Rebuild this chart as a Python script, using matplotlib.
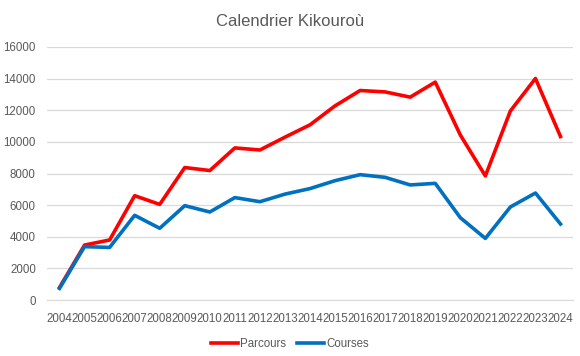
import matplotlib
matplotlib.use("Agg")
import matplotlib.pyplot as plt

years = list(range(2004, 2025))
parcours = [800, 3480, 3800, 6600, 6050, 8380, 8190, 9620, 9490, 10300, 11080,
            12280, 13250, 13160, 12830, 13780, 10440, 7850, 11960, 14010, 10340]
courses = [740, 3380, 3330, 5360, 4540, 5970, 5570, 6480, 6220, 6700, 7050,
           7550, 7930, 7760, 7280, 7380, 5210, 3900, 5890, 6770, 4810]
yticks = list(range(0, 16001, 2000))

plt.rcParams['font.family'] = ['Liberation Sans', 'DejaVu Sans']
grey = '#595959'

fig = plt.figure(figsize=(5.8, 3.56), dpi=100)
ax = fig.add_axes([0.081, 0.157, 0.907, 0.711])

ax.plot(years, parcours, color='#ff0000', lw=2.6, label='Parcours', solid_joinstyle='round')
ax.plot(years, courses, color='#0070c0', lw=2.6, label='Courses', solid_joinstyle='round')

ax.set_xlim(2003.5, 2024.5)
ax.set_ylim(0, 16000)
ax.set_yticks(yticks)
ax.set_xticks(years)
ax.set_xticklabels([str(y) for y in years])
ax.tick_params(axis='both', length=0, labelsize=8.3, colors=grey)
ax.tick_params(axis='x', pad=9)
ax.tick_params(axis='y', pad=8)
ax.grid(axis='y', color='#d9d9d9', lw=0.9)
ax.set_axisbelow(True)
for s in ['top', 'right', 'left']:
    ax.spines[s].set_visible(False)
ax.spines['bottom'].set_color('#d9d9d9')

fig.text(0.5, 0.94, 'Calendrier Kikouroù', ha='center', va='center',
         fontsize=12, color=grey)
fig.legend(loc='center', bbox_to_anchor=(0.5, 0.035), ncol=2, frameon=False,
           fontsize=8.3, labelcolor=grey, handlelength=2.3, handletextpad=0.2,
           columnspacing=1.0)

fig.savefig('out.png', dpi=100)
